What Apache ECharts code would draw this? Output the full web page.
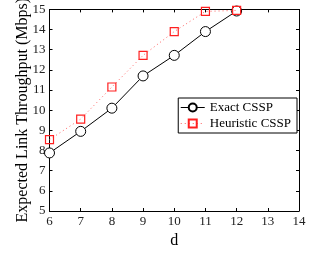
<!DOCTYPE html>
<html>
<head>
<meta charset="utf-8">
<script src="https://cdn.jsdelivr.net/npm/echarts@6/dist/echarts.min.js"></script>
<style>
  html, body { margin: 0; padding: 0; background: #fff; }
  #chart { width: 315px; height: 254px; }
</style>
</head>
<body>
<div id="chart"></div>
<script>
// d values and throughput
const dValues = [6, 7, 8, 9, 10, 11, 12]
const exactCSSP = [7.88, 8.95, 10.1, 11.7, 12.72, 13.9, 14.92]
const heuristicCSSP = [8.54, 9.56, 11.15, 12.72, 13.9, 14.9, 14.95]

const font = 'Liberation Serif, Times New Roman, serif'

const chart = echarts.init(document.getElementById('chart'))

const pairs = (ys) => dValues.map((d, i) => [d, ys[i]])

chart.setOption({
  animation: false,
  textStyle: { fontFamily: font },
  grid: { left: 49.5, right: 16, top: 9, bottom: 33 },
  legend: {
    right: 18,
    top: 98,
    orient: 'vertical',
    itemGap: 3,
    itemWidth: 24,
    itemHeight: 10,
    padding: [3, 6, 3, 2],
    borderColor: '#000',
    borderWidth: 1,
    borderRadius: 0,
    backgroundColor: '#fff',
    lineStyle: { width: 1 },
    textStyle: { fontFamily: font, fontSize: 13, color: '#000' },
    data: ['Exact CSSP', 'Heuristic CSSP']
  },
  xAxis: [{
    type: 'value',
    min: 6,
    max: 14,
    interval: 1,
    name: 'd',
    nameLocation: 'middle',
    nameGap: 22,
    nameMoveOverlap: false,
    nameTextStyle: { fontFamily: font, fontSize: 16, color: '#000' },
    axisLine: { lineStyle: { color: '#000', width: 1 } },
    axisTick: { inside: true, length: 3, lineStyle: { color: '#000' } },
    axisLabel: { fontFamily: font, fontSize: 13, color: '#222', margin: 4 },
    splitLine: { show: false }
  }, {
    type: 'value',
    position: 'top',
    min: 6,
    max: 14,
    interval: 1,
    axisLine: { show: true, lineStyle: { color: '#000', width: 1 } },
    axisTick: { inside: true, length: 3, lineStyle: { color: '#000' } },
    axisLabel: { show: false },
    splitLine: { show: false }
  }],
  yAxis: [{
    type: 'value',
    min: 5,
    max: 15,
    interval: 1,
    name: 'Expected Link Throughput (Mbps)',
    nameLocation: 'middle',
    nameGap: 19,
    nameMoveOverlap: false,
    nameTextStyle: { fontFamily: font, fontSize: 16, color: '#000' },
    axisLine: { show: true, lineStyle: { color: '#000', width: 1 } },
    axisTick: { show: true, inside: true, length: 3, lineStyle: { color: '#000' } },
    axisLabel: { fontFamily: font, fontSize: 13, color: '#222', margin: 4 },
    splitLine: { show: false }
  }, {
    type: 'value',
    position: 'right',
    min: 5,
    max: 15,
    interval: 1,
    axisLine: { show: true, lineStyle: { color: '#000', width: 1 } },
    axisTick: { show: true, inside: true, length: 3, lineStyle: { color: '#000' } },
    axisLabel: { show: false },
    splitLine: { show: false }
  }],
  series: [
    {
      name: 'Exact CSSP',
      type: 'line',
      data: pairs(exactCSSP),
      symbol: 'circle',
      symbolSize: 10,
      itemStyle: { color: '#fff', borderColor: '#000', borderWidth: 1 },
      lineStyle: { color: '#000', width: 1 },
      z: 3
    },
    {
      name: 'Heuristic CSSP',
      type: 'line',
      data: pairs(heuristicCSSP),
      symbol: 'rect',
      symbolSize: 8,
      itemStyle: { color: 'rgba(255,255,255,0)', borderColor: '#ff2020', borderWidth: 1.2 },
      lineStyle: { color: '#ff6060', width: 1, type: [1, 3] },
      z: 4
    }
  ]
})
</script>
</body>
</html>
